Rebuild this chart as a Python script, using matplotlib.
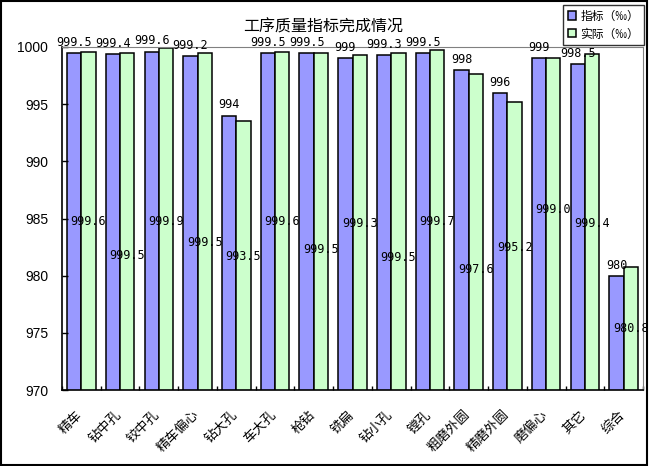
import matplotlib
matplotlib.use('Agg')
import matplotlib.pyplot as plt
import matplotlib.patches as patches
import numpy as np

# data
categories = ['精车', '钻中孔', '铰中孔', '精车偏心', '钻大孔', '车大孔', '枪钻', '铣扁',
              '钻小孔', '镗孔', '粗磨外圆', '精磨外圆', '磨偏心', '其它', '综合']
target = [999.5, 999.4, 999.6, 999.2, 994, 999.5, 999.5, 999, 999.3, 999.5, 998, 996, 999, 998.5, 980]
actual = [999.6, 999.5, 999.9, 999.5, 993.5, 999.6, 999.5, 999.3, 999.5, 999.7, 997.6, 995.2, 999.0, 999.4, 980.8]
target_text = ['999.5', '999.4', '999.6', '999.2', '994', '999.5', '999.5', '999', '999.3',
               '999.5', '998', '996', '999', '998.5', '980']
actual_text = ['999.6', '999.5', '999.9', '999.5', '993.5', '999.6', '999.5', '999.3', '999.5',
               '999.7', '997.6', '995.2', '999.0', '999.4', '980.8']
# where the reference happens to put the "actual" labels (inside the bars)
actual_label_y = [984.7, 981.8, 984.7, 982.9, 981.7, 984.7, 982.3, 984.6, 981.6, 984.7,
                  980.5, 982.5, 985.8, 984.6, 975.4]
yticks = [970, 975, 980, 985, 990, 995, 1000]

cjk = ['Noto Sans CJK SC', 'DejaVu Sans']
mono = 'DejaVu Sans Mono'

fig = plt.figure(figsize=(6.5, 4.66), dpi=100)
fig.patch.set_facecolor('white')
ax = fig.add_axes([62 / 650, 1 - 390 / 466, 581 / 650, 343 / 466])

x = np.arange(len(categories))
w = 0.37
ax.bar(x - w / 2, target, w, color='#9999FF', edgecolor='black', linewidth=1.1,
       label='指标（‰）')
ax.bar(x + w / 2, actual, w, color='#CCFFCC', edgecolor='black', linewidth=1.1,
       label='实际（‰）')

ax.set_ylim(970, 1000)
ax.set_xlim(-0.5, len(categories) - 0.5)

# value labels
for i in range(len(categories)):
    ax.annotate(target_text[i], (x[i] - w / 2, target[i]), xytext=(0, 3),
                textcoords='offset points', ha='center', va='bottom',
                family=mono, fontsize=8.5, annotation_clip=False)
    ax.text(x[i] + w / 2, actual_label_y[i], actual_text[i], ha='center', va='center',
            family=mono, fontsize=8.5)

# axes styling
ax.set_yticks(yticks)
ax.set_yticklabels([str(v) for v in yticks], family='Liberation Sans', fontsize=10)
ax.tick_params(axis='y', direction='in', length=4, width=1, pad=10)
ax.set_xticks(np.arange(len(categories) + 1) - 0.5)
ax.set_xticklabels([])
ax.tick_params(axis='x', direction='in', length=3, width=1)
for i, c in enumerate(categories):
    ax.annotate(c, (x[i], 970), xytext=(-4, -13), textcoords='offset points',
                rotation=45, ha='right', va='top', rotation_mode='anchor',
                family=cjk, fontsize=9.5, annotation_clip=False)

ax.spines['left'].set_color('black')
ax.spines['bottom'].set_color('black')
ax.spines['left'].set_linewidth(1.2)
ax.spines['bottom'].set_linewidth(1.2)
ax.spines['top'].set_color('#808080')
ax.spines['right'].set_color('#808080')

# title
fig.text(323 / 650, 1 - 27 / 466, '工序质量指标完成情况', ha='center', va='center',
         family=cjk, fontsize=11.5)

# legend
leg = fig.legend(loc='upper right', bbox_to_anchor=(644 / 650, 1 - 5 / 466),
                 prop={'family': cjk, 'size': 8.5}, frameon=True, fancybox=False,
                 handlelength=0.7, handleheight=0.7, handletextpad=0.4,
                 labelspacing=0.4, borderpad=0.4, borderaxespad=0)
leg.get_frame().set_edgecolor('black')
leg.get_frame().set_linewidth(1.0)

# outer border
fig.patches.append(patches.Rectangle((0.002, 0.003), 0.994, 0.994, transform=fig.transFigure,
                                     fill=False, edgecolor='black', linewidth=1.5))

fig.savefig('out.png', dpi=100)
